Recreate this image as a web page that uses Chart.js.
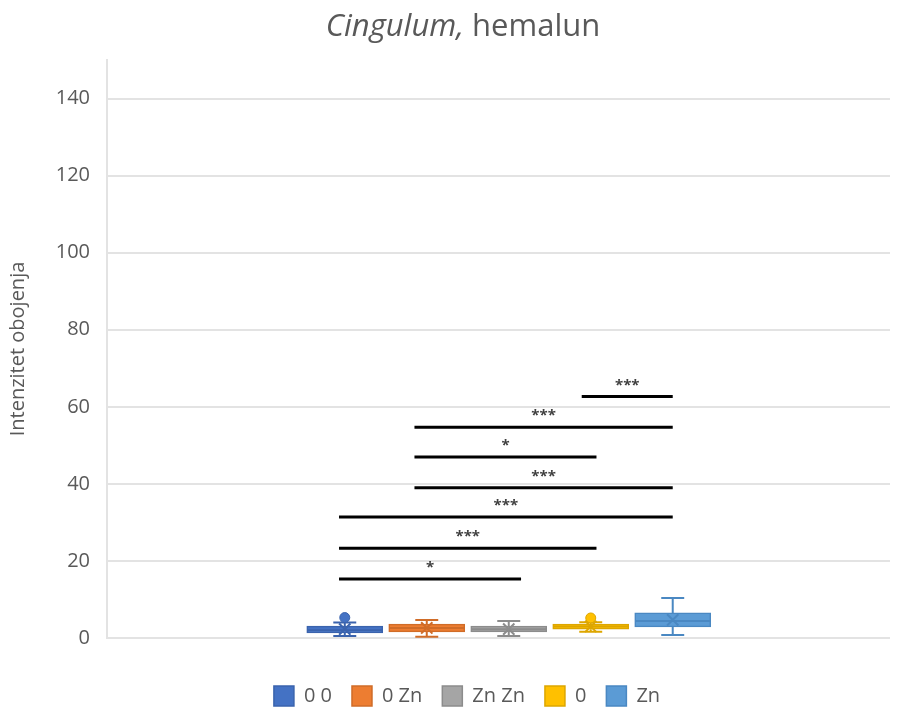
<!DOCTYPE html>
<html>
<head>
<meta charset="utf-8">
<script src="https://cdn.jsdelivr.net/npm/chart.js@4"></script>
<style>
  body { margin: 0; background: #fff; }
  #wrap { position: relative; width: 909px; height: 709px; }
  #title {
    position: absolute; left: 0; top: 3px; width: 926px;
    text-align: center; font: 31px "Open Sans", sans-serif; color: #595959;
  }
</style>
</head>
<body>
<div id="wrap">
  <div id="title"><i>Cingulum,</i> hemalun</div>
  <canvas id="box-chart"></canvas>
</div>
<script>
// data
const groups = ["0 0", "0 Zn", "Zn Zn", "0", "Zn"];
const mins = [0.5, 0.3, 0.5, 1.6, 0.8];
const q1s = [1.3, 1.6, 1.6, 2.3, 2.9];
const medians = [2.0, 2.6, 2.3, 3.0, 4.4];
const q3s = [3.1, 3.6, 3.1, 3.6, 6.5];
const maxs = [4.0, 4.7, 4.4, 4.1, 10.4];
const means = [2.3, 2.6, 2.3, 3.0, 4.7];
const outliers = [[5.3], [], [], [5.2], []];

// significance bars, ends given in group positions (1 = first group)
const sigFrom = [0.93, 0.93, 0.93, 1.85, 1.85, 1.85, 3.89];
const sigTo = [3.15, 4.07, 5.0, 5.0, 4.07, 5.0, 5.0];
const sigLevel = [15.3, 23.3, 31.4, 39.0, 47.0, 54.7, 62.7];
const sigText = ["*", "***", "***", "***", "*", "***", "***"];

const yTicks = [0, 20, 40, 60, 80, 100, 120, 140];

const fills = ["#4472C4", "#ED7D31", "#A5A5A5", "#FFC000", "#5B9BD5"];
const lines = ["#3A63AD", "#D06C28", "#8C8C8C", "#DDA600", "#4A88C2"];

Chart.defaults.font.family = "'Open Sans', sans-serif";
Chart.defaults.font.size = 20;
Chart.defaults.color = "#595959";

let datasets = [];

// boxes
groups.forEach(function(g, i) {
  datasets.push({
    type: "bar",
    label: g,
    isBox: true,
    data: [{x: i + 1, y: [q1s[i], q3s[i]]}],
    backgroundColor: fills[i],
    borderColor: lines[i],
    borderWidth: 1.5,
    borderSkipped: false,
    barThickness: 76,
    grouped: false,
    order: 3
  });
});

// whiskers, caps and median
groups.forEach(function(g, i) {
  let c = i + 1, w = 0.14, m = 0.46;
  datasets.push({
    type: "line",
    label: g + " whisker",
    data: [
      {x: c, y: maxs[i]}, {x: c, y: q3s[i]}, {x: c, y: null},
      {x: c, y: q1s[i]}, {x: c, y: mins[i]}, {x: c, y: null},
      {x: c - w, y: maxs[i]}, {x: c + w, y: maxs[i]}, {x: c, y: null},
      {x: c - w, y: mins[i]}, {x: c + w, y: mins[i]}, {x: c, y: null},
      {x: c - m, y: medians[i]}, {x: c + m, y: medians[i]}
    ],
    borderColor: lines[i],
    borderWidth: 2,
    pointRadius: 0,
    spanGaps: false,
    order: 2
  });
  // mean marker
  datasets.push({
    type: "scatter",
    label: g + " mean",
    data: [{x: c, y: means[i]}],
    pointStyle: "crossRot",
    pointRadius: 8,
    borderColor: lines[i],
    borderWidth: 2,
    order: 1
  });
  // outliers
  datasets.push({
    type: "scatter",
    label: g + " outlier",
    data: outliers[i].map(function(v) { return {x: c, y: v}; }),
    pointStyle: "circle",
    pointRadius: 5,
    backgroundColor: fills[i],
    borderColor: lines[i],
    borderWidth: 1,
    order: 1
  });
});

// significance lines
let sigPoints = [];
for (let i = 0; i < sigLevel.length; i++) {
  sigPoints.push({x: sigFrom[i], y: sigLevel[i]});
  sigPoints.push({x: sigTo[i], y: sigLevel[i]});
  sigPoints.push({x: sigTo[i], y: null});
}
datasets.push({
  type: "line",
  label: "significance",
  data: sigPoints,
  borderColor: "#000000",
  borderWidth: 3,
  pointRadius: 0,
  spanGaps: false,
  order: 0
});

// asterisks above the significance lines
const sigLabels = {
  id: "sigLabels",
  afterDatasetsDraw: function(chart) {
    let ctx = chart.ctx;
    let xs = chart.scales.x, ys = chart.scales.y;
    ctx.save();
    ctx.font = "bold 15px 'Open Sans', sans-serif";
    ctx.fillStyle = "#404040";
    ctx.textAlign = "center";
    ctx.textBaseline = "middle";
    for (let i = 0; i < sigLevel.length; i++) {
      let px = xs.getPixelForValue((sigFrom[i] + sigTo[i]) / 2);
      let py = ys.getPixelForValue(sigLevel[i]);
      ctx.fillText(sigText[i], px, py - 11);
    }
    ctx.restore();
  }
};

new Chart(document.getElementById("box-chart"), {
  data: { datasets: datasets },
  plugins: [sigLabels],
  options: {
    responsive: true,
    maintainAspectRatio: false,
    animation: false,
    layout: {
      padding: {left: 44, right: 19, top: 60, bottom: -7}
    },
    scales: {
      x: {
        type: "linear",
        min: -1.9,
        max: 7.65,
        offset: false,
        ticks: { display: false },
        grid: { display: false },
        border: { display: false },
        afterFit: function(scale) { scale.height = 28; }
      },
      y: {
        min: 0,
        max: 150,
        afterBuildTicks: function(axis) {
          axis.ticks = yTicks.map(function(v) { return {value: v}; });
        },
        ticks: { padding: 17 },
        grid: { color: "#E3E3E3", lineWidth: 2, drawTicks: false },
        border: { display: true, color: "#E3E3E3", width: 2 },
        title: {
          display: true,
          text: "Intenzitet obojenja",
          padding: {top: -38, bottom: 0}
        },
        afterFit: function(scale) { scale.width = 63; }
      }
    },
    plugins: {
      tooltip: { enabled: false },
      legend: {
        position: "bottom",
        labels: {
          boxWidth: 20,
          boxHeight: 20,
          padding: 20,
          filter: function(item, data) {
            return data.datasets[item.datasetIndex].isBox;
          }
        }
      }
    }
  }
});
</script>
</body>
</html>
